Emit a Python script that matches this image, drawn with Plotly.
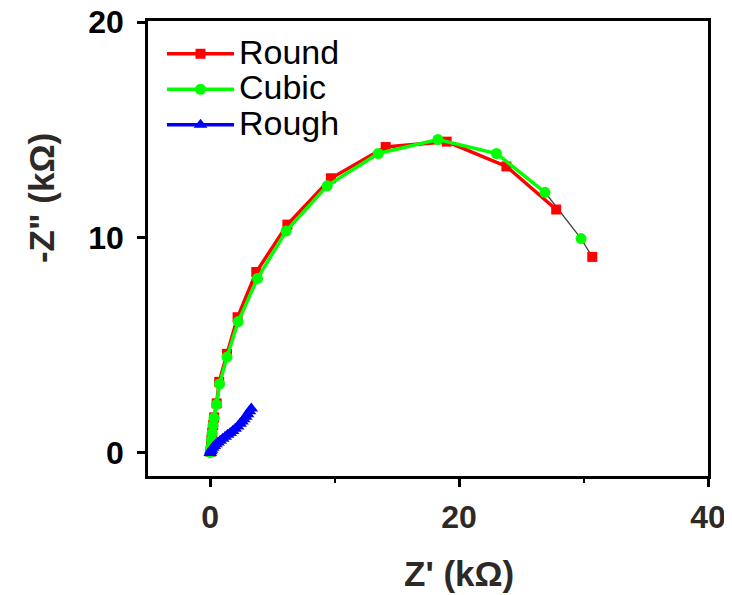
import plotly.graph_objects as go

# impedance data (kOhm)
round_x = [0.02, 0.06, 0.1, 0.16, 0.24, 0.32, 0.52, 0.72, 1.35, 2.2, 3.7, 6.2, 9.7, 14.1, 19.0, 23.8, 27.8, 30.7]
round_y = [0.05, 0.3, 0.62, 0.95, 1.3, 1.65, 2.3, 3.3, 4.6, 6.3, 8.4, 10.6, 12.75, 14.2, 14.45, 13.3, 11.3, 9.1]

cubic_x = [0.0, 0.05, 0.1, 0.15, 0.22, 0.3, 0.5, 0.75, 1.35, 2.25, 3.8, 6.1, 9.4, 13.5, 18.3, 23.0, 26.9, 29.8]
cubic_y = [0.02, 0.28, 0.6, 0.92, 1.28, 1.62, 2.25, 3.2, 4.45, 6.1, 8.1, 10.3, 12.4, 13.9, 14.55, 13.9, 12.1, 9.95]

rough_x = [0.0, 0.05, 0.1, 0.2, 0.32, 0.46, 0.62, 0.8, 1.0, 1.2, 1.4, 1.6, 1.8, 2.0, 2.2, 2.4, 2.55, 2.7, 2.85, 3.0, 3.15, 3.3]
rough_y = [0.0, 0.08, 0.15, 0.24, 0.32, 0.4, 0.48, 0.57, 0.66, 0.75, 0.84, 0.93, 1.02, 1.12, 1.23, 1.35, 1.46, 1.57, 1.68, 1.8, 1.93, 2.06]

x_ticks = [0, 20, 40]
y_ticks = [0, 10, 20]

FONT = "Liberation Sans, Arial, sans-serif"
DARK = "#2d2926"

def leg(name):
    # bigger text than the legend font so the rows stay tight
    return '<span style="font-size:34px">' + name + '</span>'

fig = go.Figure()

# thin dark tail joining the last points (as in the original)
fig.add_trace(go.Scatter(
    x=cubic_x[-2:] + round_x[-1:], y=cubic_y[-2:] + round_y[-1:],
    mode="lines", line=dict(color="#444444", width=1.3),
    showlegend=False, hoverinfo="skip"
))

# break the last segment of the thick lines
fig.add_trace(go.Scatter(
    x=round_x[:-1] + [None] + round_x[-1:], y=round_y[:-1] + [None] + round_y[-1:],
    name=leg("Round"), mode="lines+markers", connectgaps=False,
    line=dict(color="#ff0000", width=3.5),
    marker=dict(symbol="square", size=10, color="#ff0000")
))
fig.add_trace(go.Scatter(
    x=cubic_x[:-1] + [None] + cubic_x[-1:], y=cubic_y[:-1] + [None] + cubic_y[-1:],
    name=leg("Cubic"), mode="lines+markers", connectgaps=False,
    line=dict(color="#00ff00", width=3.5),
    marker=dict(symbol="circle", size=11, color="#00ff00")
))
fig.add_trace(go.Scatter(
    x=rough_x, y=rough_y, name=leg("Rough"), mode="lines+markers",
    line=dict(color="#0000ff", width=3.5),
    marker=dict(symbol="triangle-up", size=12, color="#0000ff")
))

fig.update_layout(
    width=732, height=595,
    margin=dict(l=140, r=32, t=13, b=127),
    paper_bgcolor="white", plot_bgcolor="white",
    font=dict(family=FONT, color="black"),
    legend=dict(
        x=0.025, y=0.978, xanchor="left", yanchor="top",
        bgcolor="rgba(0,0,0,0)", font=dict(size=25, color="black"),
        itemwidth=67, tracegroupgap=0
    ),
    annotations=[
        dict(text="<b>Z' (kΩ)</b>", xref="paper", yref="paper", x=0.555, y=-0.2132,
             xanchor="center", yanchor="middle",
             showarrow=False, font=dict(size=35, color=DARK)),
        dict(text="<b>-Z\" (kΩ)</b>", xref="paper", yref="paper", x=-0.19, y=0.61,
             xanchor="center", yanchor="middle",
             textangle=-90, showarrow=False, font=dict(size=35, color=DARK)),
    ],
)

fig.update_xaxes(
    range=[-5, 40], tickvals=x_ticks, ticks="outside", ticklen=8, tickwidth=2.5,
    tickcolor="black", showline=True, linewidth=2.5, linecolor="black", mirror=True,
    showgrid=False, zeroline=False, ticklabelstandoff=3, automargin=False,
    ticklabeloverflow="allow",
    tickfont=dict(size=32, color=DARK, family=FONT, weight="bold"),
    minor=dict(dtick=10, ticks="outside", ticklen=4, tickwidth=2, tickcolor="black", showgrid=False)
)
fig.update_yaxes(
    range=[-1.07, 20.05], tickvals=y_ticks, ticks="outside", ticklen=8, tickwidth=2.5,
    tickcolor="black", showline=True, linewidth=2.5, linecolor="black", mirror=True,
    showgrid=False, zeroline=False, ticklabelstandoff=7, automargin=False,
    ticklabeloverflow="allow",
    tickfont=dict(size=32, color="black", family=FONT, weight="bold")
)

fig.write_html("out.html")
